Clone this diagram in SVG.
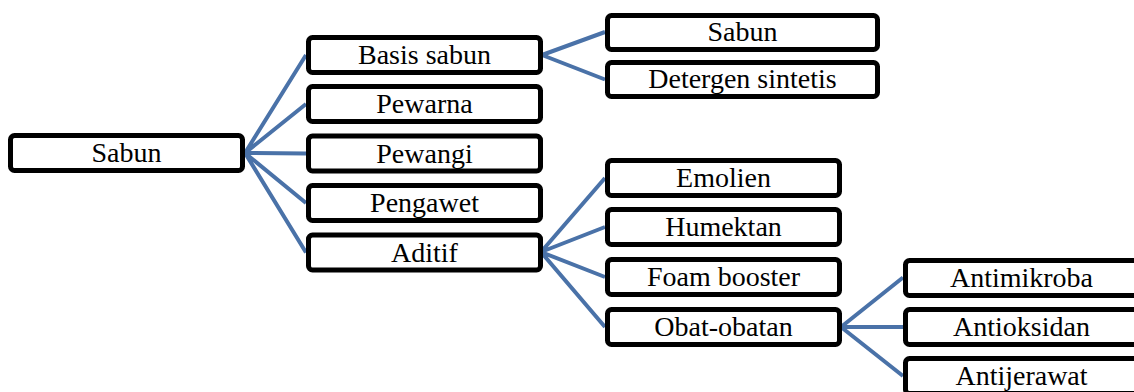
<svg xmlns="http://www.w3.org/2000/svg" width="1134" height="392" viewBox="0 0 1134 392">
<style>
.box{fill:#ffffff;stroke:#000000;stroke-width:5;}
.lbl{font-family:"Liberation Serif","Times New Roman",serif;font-size:28px;fill:#000000;text-anchor:middle;}
.con{stroke:#4a72a8;stroke-width:4;fill:none;stroke-linecap:butt;}
</style>
<rect x="0" y="0" width="1134" height="392" fill="#ffffff"/>
<g id="connectors">
<path class="con" d="M245,153 L306,55 M245,153 L306,104 M245,153 L306,153.5 M245,153 L306,203 M245,153 L306,252.5"/>
<path class="con" d="M542,55 L605,32 M542,55 L605,79.5"/>
<path class="con" d="M541,252 L605,178 M541,252 L605,227 M541,252 L605,277 M541,252 L605,327"/>
<path class="con" d="M841,327 L903,277.5 M841,327 L903,327 M841,327 L903,376"/>
</g>
<g id="n-sabun-root"><rect class="box" x="10.5" y="135.5" width="232" height="35" rx="4"/><text class="lbl" x="126.5" y="162">Sabun</text></g>
<g id="n-basis"><rect class="box" x="308.5" y="37.5" width="232" height="35" rx="4"/><text class="lbl" x="424.5" y="64">Basis sabun</text></g>
<g id="n-pewarna"><rect class="box" x="308.5" y="86.5" width="232" height="35" rx="4"/><text class="lbl" x="424.5" y="113">Pewarna</text></g>
<g id="n-pewangi"><rect class="box" x="308.5" y="136" width="232" height="35" rx="4"/><text class="lbl" x="424.5" y="162.5">Pewangi</text></g>
<g id="n-pengawet"><rect class="box" x="308.5" y="185.5" width="232" height="35" rx="4"/><text class="lbl" x="424.5" y="212">Pengawet</text></g>
<g id="n-aditif"><rect class="box" x="308.5" y="235" width="232" height="35" rx="4"/><text class="lbl" x="424.5" y="261.5">Aditif</text></g>
<g id="n-sabun2"><rect class="box" x="607.5" y="15.5" width="270" height="34" rx="4"/><text class="lbl" x="742.5" y="41">Sabun</text></g>
<g id="n-detergen"><rect class="box" x="607.5" y="62.5" width="270" height="34" rx="4"/><text class="lbl" x="742.5" y="88">Detergen sintetis</text></g>
<g id="n-emolien"><rect class="box" x="607.5" y="160.5" width="232" height="35" rx="4"/><text class="lbl" x="723.5" y="187">Emolien</text></g>
<g id="n-humektan"><rect class="box" x="607.5" y="209.5" width="232" height="35" rx="4"/><text class="lbl" x="723.5" y="236">Humektan</text></g>
<g id="n-foam"><rect class="box" x="607.5" y="259.5" width="232" height="35" rx="4"/><text class="lbl" x="723.5" y="286">Foam booster</text></g>
<g id="n-obat"><rect class="box" x="607.5" y="309.5" width="232" height="35" rx="4"/><text class="lbl" x="723.5" y="336">Obat-obatan</text></g>
<g id="n-antimikroba"><rect class="box" x="905.5" y="260.5" width="232" height="35" rx="4"/><text class="lbl" x="1021.5" y="287">Antimikroba</text></g>
<g id="n-antioksidan"><rect class="box" x="905.5" y="309.5" width="232" height="35" rx="4"/><text class="lbl" x="1021.5" y="336">Antioksidan</text></g>
<g id="n-antijerawat"><rect class="box" x="905.5" y="358.5" width="232" height="35" rx="4"/><text class="lbl" x="1021.5" y="385">Antijerawat</text></g>
</svg>
